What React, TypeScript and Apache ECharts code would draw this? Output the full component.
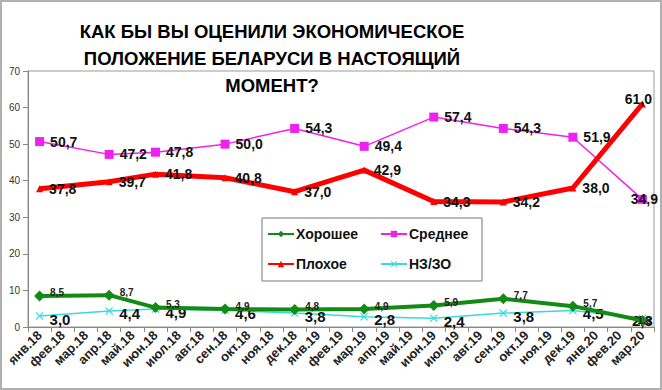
import React, { useEffect, useRef } from "react";
import * as echarts from "echarts";

const categories = [
  "янв.18", "фев.18", "мар.18", "апр.18", "май.18", "июн.18", "июл.18", "авг.18", "сен.18",
  "окт.18", "ноя.18", "дек.18", "янв.19", "фев.19", "мар.19", "апр.19", "май.19", "июн.19",
  "июл.19", "авг.19", "сен.19", "окт.19", "ноя.19", "дек.19", "янв.20", "фев.20", "мар.20",
];
const surveyMonths = ["янв.18", "апр.18", "июн.18", "сен.18", "дек.18", "мар.19", "июн.19", "сен.19", "дек.19", "мар.20"];
const good = [8.5, 8.7, 5.3, 4.9, 4.8, 4.9, 5.9, 7.7, 5.7, 1.8];
const average = [50.7, 47.2, 47.8, 50.0, 54.3, 49.4, 57.4, 54.3, 51.9, 34.9];
const bad = [37.8, 39.7, 41.8, 40.8, 37.0, 42.9, 34.3, 34.2, 38.0, 61.0];
const dkna = [3.0, 4.4, 4.9, 4.6, 3.8, 2.8, 2.4, 3.8, 4.5, 2.3];
const yTicks = { min: 0, max: 70, interval: 10 };
const titleText = "КАК БЫ ВЫ ОЦЕНИЛИ ЭКОНОМИЧЕСКОЕ\nПОЛОЖЕНИЕ БЕЛАРУСИ В НАСТОЯЩИЙ\nМОМЕНТ?";

const FONT = "'Liberation Sans', Arial, sans-serif";
const fmt = (p: any) => Number(p.value[1]).toFixed(1).replace(".", ",");
const pairs = (vals: number[], override?: Record<number, any>) =>
  vals.map((v, i) => {
    const item: any = { value: [surveyMonths[i], v] };
    if (override && override[i]) item.label = override[i];
    return item;
  });

export default function App() {
  const ref = useRef<HTMLDivElement>(null);
  useEffect(() => {
    if (!ref.current) return;
    const chart = echarts.init(ref.current, null, { renderer: "svg" });
    const bigLabel = { show: true, position: "right", distance: 6, formatter: fmt, fontFamily: FONT, fontSize: 14, fontWeight: "bold", color: "#111" };
    chart.setOption({
      animation: false,
      backgroundColor: "#fff",
      textStyle: { fontFamily: FONT },
      title: {
        text: titleText,
        left: 267,
        top: 13,
        textAlign: "center",
        textStyle: { fontFamily: FONT, fontSize: 18.5, fontWeight: "bold", color: "#000", lineHeight: 27 },
      },
      graphic: [
        { type: "rect", shape: { x: 1, y: 1, width: 660, height: 388 }, style: { fill: "none", stroke: "#b0b0b0", lineWidth: 2 }, silent: true },
        { type: "rect", shape: { x: 262, y: 218, width: 220, height: 63 }, style: { fill: "#fff", stroke: "#777", lineWidth: 1 }, z: 5, silent: true },
      ],
      legend: [
        {
          data: ["Хорошее", "Плохое"], orient: "vertical", left: 262, top: 222, itemWidth: 26, itemHeight: 8, itemGap: 16, z: 10,
          textStyle: { fontFamily: FONT, fontSize: 14, fontWeight: "bold", color: "#111", padding: [0, 0, 0, -3] },
        },
        {
          data: ["Среднее", "НЗ/ЗО"], orient: "vertical", left: 375, top: 222, itemWidth: 26, itemHeight: 8, itemGap: 16, z: 10,
          textStyle: { fontFamily: FONT, fontSize: 14, fontWeight: "bold", color: "#111", padding: [0, 0, 0, -3] },
        },
      ],
      grid: { left: 28, right: 8, top: 71, bottom: 63, show: true, borderColor: "#999", borderWidth: 1 },
      xAxis: {
        type: "category",
        data: categories,
        boundaryGap: true,
        axisLine: { lineStyle: { color: "#888" } },
        axisTick: { show: true, interval: 0, lineStyle: { color: "#888" } },
        axisLabel: { interval: 0, rotate: 45, fontFamily: FONT, fontSize: 13, fontWeight: "bold", color: "#222", margin: 6 },
        splitLine: { show: false },
      },
      yAxis: {
        type: "value",
        ...yTicks,
        axisLine: { show: true, lineStyle: { color: "#888" } },
        axisTick: { show: true, lineStyle: { color: "#888" } },
        axisLabel: { fontFamily: FONT, fontSize: 10, color: "#333", margin: 8 },
        splitLine: { show: false },
      },
      series: [
        {
          name: "Хорошее", type: "line", data: pairs(good, { 9: { position: "inside", offset: [2, 0] } }), z: 3,
          symbol: "diamond", symbolSize: 11,
          lineStyle: { color: "#138a13", width: 4 }, itemStyle: { color: "#138a13" },
          label: { show: true, position: "right", distance: 5, offset: [0, -3], formatter: fmt, fontFamily: FONT, fontSize: 10, fontWeight: "bold", color: "#222" },
        },
        {
          name: "Среднее", type: "line", data: pairs(average, { 9: { position: "inside", offset: [2, 0] } }), z: 3,
          symbol: "rect", symbolSize: 9,
          lineStyle: { color: "#ee22ee", width: 1.5 }, itemStyle: { color: "#ee22ee" },
          label: bigLabel,
        },
        {
          name: "Плохое", type: "line", data: pairs(bad, { 9: { position: "top", distance: -6, offset: [-4, 0] } }), z: 4,
          symbol: "triangle", symbolSize: 7,
          lineStyle: { color: "#ff0000", width: 5 }, itemStyle: { color: "#ff0000" },
          label: bigLabel,
        },
        {
          name: "НЗ/ЗО", type: "line", data: pairs(dkna, { 9: { position: "inside", offset: [0, 2] } }), z: 2,
          symbol: "path://M0,1L1,0L5,4L9,0L10,1L6,5L10,9L9,10L5,6L1,10L0,9L4,5Z", symbolSize: 8,
          lineStyle: { color: "#33dddd", width: 1.5 }, itemStyle: { color: "#33dddd" },
          label: { ...bigLabel, fontSize: 15, offset: [0, 3] },
        },
      ],
    });
    return () => chart.dispose();
  }, []);
  return <div ref={ref} style={{ position: "fixed", left: 0, top: 0, width: 662, height: 390 }} />;
}
